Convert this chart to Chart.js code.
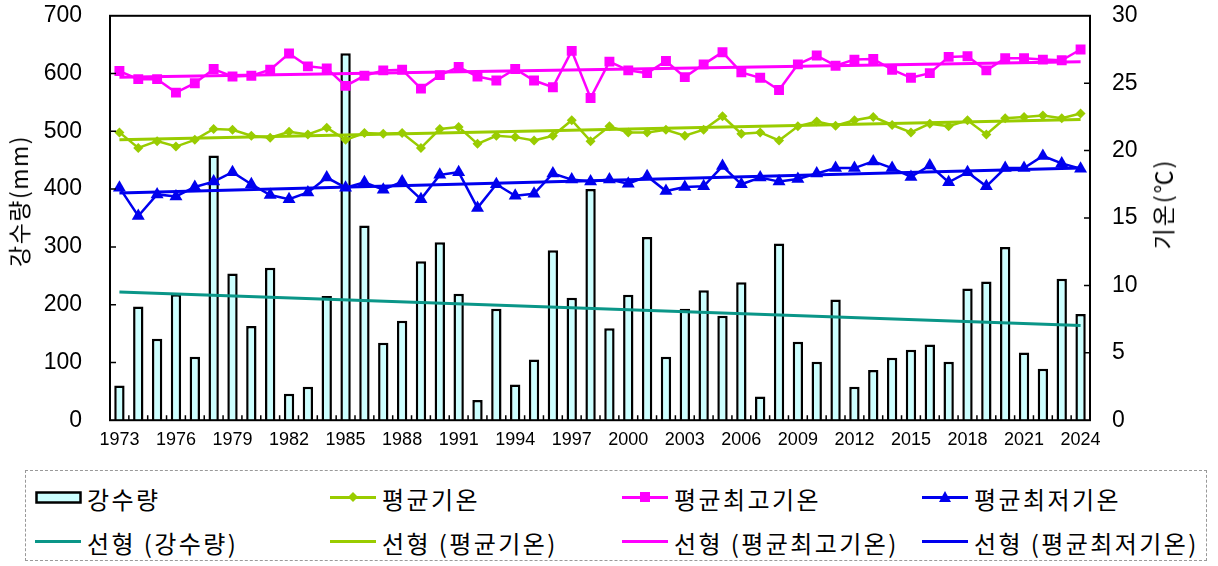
<!DOCTYPE html>
<html>
<head>
<meta charset="utf-8">
<script src="https://cdn.jsdelivr.net/npm/chart.js@4.4.1/dist/chart.umd.min.js"></script>
<style>
    body { margin: 0; background: #fff; width: 1218px; height: 566px; overflow: hidden; position: relative; }
    #chart-box { position: absolute; left: 0; top: -26px; width: 1218px; height: 488px; }
    #legend {
        position: absolute; left: 25px; top: 470px; width: 1182px; height: 91px;
        border: 1px dashed #999; box-sizing: border-box;
        font-family: "Noto Sans CJK KR", sans-serif; font-size: 24px; letter-spacing: 2.4px; color: #000;
    }
    .item { position: absolute; display: flex; align-items: center; height: 30px; white-space: nowrap; }
    .item svg { margin-right: 4px; }
    .titulo-eixo {
        position: absolute; transform: translate(-50%, -50%) rotate(-90deg);
        font-family: "Noto Sans CJK KR", sans-serif; font-size: 23px; white-space: nowrap; color: #000;
    }
    #y-title { left: 18px; top: 201px; letter-spacing: 1.5px; }
    #y1-title { left: 1162px; top: 204px; letter-spacing: 2px; }
</style>
</head>
<body>
<div id="chart-box"><canvas id="grafico"></canvas></div>
<div id="y-title" class="titulo-eixo">강수량(mm)</div>
<div id="y1-title" class="titulo-eixo">기온(℃)</div>
<div id="legend"></div>

<script>
// ============================================================
// DADOS
// ============================================================

const anos = Array.from({ length: 52 }, (_, i) => String(1973 + i));

const precipitacao = [60, 197, 141, 218, 110, 458, 254, 163, 264, 46, 58, 215, 635,
    337, 134, 172, 275, 308, 219, 35, 193, 62, 105, 294, 212, 400,
    159, 217, 317, 110, 193, 225, 181, 239, 41, 306, 136, 101, 209,
    58, 87, 108, 122, 131, 101, 228, 240, 300, 117, 89, 245, 184];

const tempMedia = [21.35, 20.2, 20.7, 20.3, 20.8, 21.6, 21.55, 21.1, 20.95, 21.4, 21.2, 21.7, 20.8,
    21.3, 21.25, 21.3, 20.2, 21.6, 21.75, 20.5, 21.1, 21.0, 20.75, 21.1, 22.25, 20.7,
    21.8, 21.35, 21.35, 21.55, 21.1, 21.55, 22.55, 21.25, 21.35, 20.75, 21.8, 22.15, 21.85,
    22.25, 22.5, 21.9, 21.35, 22.0, 21.8, 22.25, 21.2, 22.4, 22.5, 22.6, 22.4, 22.75];

const tempMax = [25.9, 25.3, 25.3, 24.3, 25.0, 26.05, 25.5, 25.55, 26.0, 27.2, 26.25, 26.1, 24.8,
    25.55, 25.95, 26.0, 24.6, 25.6, 26.2, 25.5, 25.2, 26.05, 25.2, 24.7, 27.4, 23.9,
    26.6, 25.95, 25.75, 26.65, 25.45, 26.4, 27.3, 25.8, 25.4, 24.5, 26.4, 27.05, 26.3,
    26.75, 26.8, 26.0, 25.4, 25.75, 26.95, 27.0, 25.95, 26.85, 26.85, 26.75, 26.7, 27.5];

const tempMin = [17.25, 15.15, 16.75, 16.6, 17.3, 17.7, 18.4, 17.5, 16.7, 16.4, 16.9, 18.0, 17.25,
    17.65, 17.1, 17.7, 16.4, 18.2, 18.4, 15.75, 17.5, 16.65, 16.8, 18.3, 17.85, 17.7,
    17.85, 17.55, 18.1, 17.0, 17.3, 17.35, 18.85, 17.5, 18.0, 17.7, 17.9, 18.3, 18.7,
    18.7, 19.2, 18.7, 18.05, 18.9, 17.65, 18.4, 17.35, 18.7, 18.7, 19.6, 19.05, 18.65];

// linhas de tendência (valores nas pontas, 1973 e 2024)
const tendPrecip = [222, 164];
const tendMedia = [20.8, 22.3];
const tendMax = [25.45, 26.6];
const tendMin = [16.85, 18.7];

const ticksEsquerda = [0, 100, 200, 300, 400, 500, 600, 700];
const ticksDireita = [0, 5, 10, 15, 20, 25, 30];

const COR_VERDE = '#99cc00';
const COR_MAGENTA = '#ff00ff';
const COR_AZUL = '#0000ee';
const COR_TEAL = '#0a9688';

// ============================================================
// HELPERS
// ============================================================

function pontas(valores) {
    return [{ x: anos[0], y: valores[0] }, { x: anos[anos.length - 1], y: valores[1] }];
}

function serieLinha(label, data, cor, estilo, raio) {
    return {
        type: 'line', label, data, yAxisID: 'y1', order: 2,
        borderColor: cor, backgroundColor: cor, borderWidth: 2.5,
        pointStyle: estilo, pointRadius: raio, pointBorderWidth: 0, tension: 0
    };
}

function tendencia(label, valores, eixo, cor) {
    return {
        type: 'line', label, data: pontas(valores), yAxisID: eixo, order: 1,
        borderColor: cor, borderWidth: 3, pointRadius: 0
    };
}

// moldura + tracinhos para dentro
const molduraPlugin = {
    id: 'moldura',
    afterDatasetsDraw(chart) {
        const { ctx, chartArea: a, scales } = chart;
        ctx.save();
        ctx.strokeStyle = '#000';
        ctx.lineWidth = 1.5;
        ctx.beginPath();
        ticksEsquerda.slice(1, -1).forEach(v => {
            const y = scales.y.getPixelForValue(v);
            ctx.moveTo(a.left, y); ctx.lineTo(a.left + 6, y);
        });
        ticksDireita.slice(1, -1).forEach(v => {
            const y = scales.y1.getPixelForValue(v);
            ctx.moveTo(a.right - 6, y); ctx.lineTo(a.right, y);
        });
        for (let i = 0; i < anos.length - 1; i++) {
            const x = (scales.x.getPixelForValue(i) + scales.x.getPixelForValue(i + 1)) / 2;
            ctx.moveTo(x, a.bottom); ctx.lineTo(x, a.bottom - 5);
        }
        ctx.stroke();
        ctx.lineWidth = 2;
        ctx.strokeRect(a.left, a.top, a.right - a.left, a.bottom - a.top);
        ctx.restore();
    }
};

// ============================================================
// GRÁFICO
// ============================================================

const fonteNum = { family: '"Liberation Sans", Arial, sans-serif', size: 23 };

new Chart(document.getElementById('grafico'), {
    data: {
        labels: anos,
        datasets: [
            {
                type: 'bar', label: '강수량', data: precipitacao, yAxisID: 'y', order: 10,
                backgroundColor: '#ccffff', borderColor: '#000', borderWidth: 2.5,
                barPercentage: 0.55, categoryPercentage: 1
            },
            serieLinha('평균기온', tempMedia, COR_VERDE, 'rectRot', 5),
            serieLinha('평균최고기온', tempMax, COR_MAGENTA, 'rect', 7),
            serieLinha('평균최저기온', tempMin, COR_AZUL, 'triangle', 7.5),
            tendencia('선형 (강수량)', tendPrecip, 'y', COR_TEAL),
            tendencia('선형 (평균기온)', tendMedia, 'y1', COR_VERDE),
            tendencia('선형 (평균최고기온)', tendMax, 'y1', COR_MAGENTA),
            tendencia('선형 (평균최저기온)', tendMin, 'y1', COR_AZUL)
        ]
    },
    options: {
        responsive: true,
        maintainAspectRatio: false,
        animation: false,
        layout: { padding: { top: 16, left: 0, right: 0, bottom: 0 } },
        plugins: { legend: { display: false }, tooltip: { enabled: false } },
        scales: {
            x: {
                offset: true,
                grid: { display: false, drawTicks: false },
                border: { display: false },
                ticks: {
                    autoSkip: false, maxRotation: 0, padding: 9, color: '#000',
                    font: { family: fonteNum.family, size: 18 },
                    callback: (v, i) => (i % 3 === 0 ? anos[i] : '')
                },
                afterFit: s => { s.height = 41; }
            },
            y: {
                position: 'left', min: 0, max: 700,
                grid: { display: false, drawTicks: false },
                border: { display: false },
                ticks: { stepSize: 100, padding: 28, color: '#000', font: fonteNum },
                afterFit: s => { s.width = 110; }
            },
            y1: {
                position: 'right', min: 0, max: 30,
                grid: { display: false, drawTicks: false },
                border: { display: false },
                ticks: { stepSize: 5, padding: 22, color: '#000', font: fonteNum },
                afterFit: s => { s.width = 128; }
            }
        }
    },
    plugins: [molduraPlugin]
});

// ============================================================
// LEGENDA (HTML)
// ============================================================

function simbolo(tipo, cor) {
    let marca = '';
    if (tipo === 'rectRot') marca = `<polygon points="23,1 28,6 23,11 18,6" fill="${cor}"/>`;
    if (tipo === 'rect') marca = `<rect x="18" y="1" width="10" height="10" fill="${cor}"/>`;
    if (tipo === 'triangle') marca = `<polygon points="23,0 29,11 17,11" fill="${cor}"/>`;
    if (tipo === 'bar') {
        return `<svg width="48" height="14"><rect x="1.5" y="1.5" width="44" height="10" fill="#ccffff" stroke="#000" stroke-width="2.5"/></svg>`;
    }
    return `<svg width="48" height="14"><line x1="0" y1="6.5" x2="46" y2="6.5" stroke="${cor}" stroke-width="3"/>${marca}</svg>`;
}

const itensLegenda = [
    { texto: '강수량', tipo: 'bar', cor: '#000', x: 9, y: 12 },
    { texto: '평균기온', tipo: 'rectRot', cor: COR_VERDE, x: 304, y: 12 },
    { texto: '평균최고기온', tipo: 'rect', cor: COR_MAGENTA, x: 596, y: 12 },
    { texto: '평균최저기온', tipo: 'triangle', cor: COR_AZUL, x: 896, y: 12 },
    { texto: '선형 (강수량)', tipo: 'line', cor: COR_TEAL, x: 9, y: 56 },
    { texto: '선형 (평균기온)', tipo: 'line', cor: COR_VERDE, x: 304, y: 56 },
    { texto: '선형 (평균최고기온)', tipo: 'line', cor: COR_MAGENTA, x: 596, y: 56 },
    { texto: '선형 (평균최저기온)', tipo: 'line', cor: COR_AZUL, x: 896, y: 56 }
];

document.getElementById('legend').innerHTML = itensLegenda.map(it => `
    <div class="item" style="left:${it.x}px; top:${it.y}px;">
        ${simbolo(it.tipo, it.cor)}<span>${it.texto}</span>
    </div>`).join('');
</script>
</body>
</html>
